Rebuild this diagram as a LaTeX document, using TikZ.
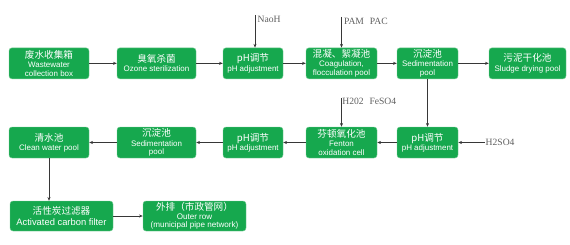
\documentclass[tikz,border=0pt]{standalone}
\usepackage{fontspec}
\setmainfont{Liberation Sans}
\newfontfamily\cjk{Noto Sans CJK SC}
\newfontfamily\labfont{Liberation Serif}
\usepackage{xcolor}
\usetikzlibrary{
  arrows.meta,
  positioning,
  calc
}
\definecolor{xgreen}{RGB}{22,168,78}
\definecolor{xedge}{RGB}{120,205,150}
\definecolor{xline}{RGB}{55,55,55}
\definecolor{xlabel}{RGB}{95,95,95}

\newcommand{\cn}[1]{{\cjk\fontsize{8.2}{9}\selectfont #1}}

\begin{document}
\begin{tikzpicture}[
  stage/.style={draw=xedge, fill=xgreen, rounded corners=2.5pt,
                minimum width=#1, minimum height=0.93cm, inner sep=1pt,
                text=white, align=center, line width=0.4pt,
                font=\fontsize{6.8}{7.4}\selectfont},
  stage/.default=2.4cm,
  arr/.style={-{Stealth[length=3.2pt,width=2.6pt]}, color=xline, line width=0.5pt},
  dose/.style={font=\labfont\fontsize{8.2}{9}\selectfont, color=xlabel, inner sep=0.5pt}
]
  \useasboundingbox (0,0) rectangle (17.1,-7.32);

  % first row
  \node[stage=2.4cm]  (collect) at (1.47,-1.9)   {\cn{废水收集箱}\\[0.5pt]Wastewater\\collection box};
  \node[stage=2.37cm] (ozone)   at (4.695,-1.9)  {\cn{臭氧杀菌}\\[0.5pt]Ozone sterilization};
  \node[stage=1.8cm]  (ph1)     at (7.59,-1.9)   {\cn{pH调节}\\[0.5pt]pH adjustment};
  \node[stage=2.13cm] (coag)    at (10.245,-1.9) {\cn{混凝、絮凝池}\\[0.5pt]Coagulation,\\flocculation pool};
  \node[stage=1.83cm] (sed1)    at (12.825,-1.9) {\cn{沉淀池}\\[0.5pt]Sedimentation\\pool};
  \node[stage=2.31cm] (sludge)  at (15.825,-1.9) {\cn{污泥干化池}\\[0.5pt]Sludge drying pool};

  % second row
  \node[stage=1.83cm] (ph2)     at (12.825,-4.275) {\cn{pH调节}\\[0.5pt]pH adjustment};
  \node[stage=2.13cm] (fenton)  at (10.245,-4.275) {\cn{芬顿氧化池}\\[0.5pt]Fenton\\oxidation cell};
  \node[stage=1.8cm]  (ph3)     at (7.59,-4.275)   {\cn{pH调节}\\[0.5pt]pH adjustment};
  \node[stage=2.37cm] (sed2)    at (4.695,-4.275)  {\cn{沉淀池}\\[0.5pt]Sedimentation\\pool};
  \node[stage=2.4cm]  (clean)   at (1.47,-4.275)   {\cn{清水池}\\[0.5pt]Clean water pool};

  % third row
  \node[stage=3.09cm, minimum height=0.9cm, font=\fontsize{8}{8.6}\selectfont] (carbon) at (1.845,-6.48)
    {\cn{活性炭过滤器}\\[0.5pt]Activated carbon filter};
  \node[stage=3.09cm, minimum height=0.9cm, font=\fontsize{6.9}{7.2}\selectfont] (outlet) at (5.835,-6.48)
    {\cn{外排（市政管网）}\\[0pt]Outer row\\(municipal pipe network)};

  % main flow
  \foreach \from/\to in {collect/ozone, ozone/ph1, ph1/coag, coag/sed1, sed1/sludge,
                         ph2/fenton, fenton/ph3, ph3/sed2, sed2/clean, carbon/outlet}{
    \draw[arr] (\from) -- (\to);
  }
  \draw[arr] (sed1) -- (ph2);
  \draw[arr] (clean.south) -- (clean.south |- carbon.north);

  % dosing points
  \coordinate (naoh)  at ($(ph1.north)+(0.06,0.98)$);
  \coordinate (pam)   at ($(coag.north)+(0,0.92)$);
  \coordinate (h2o2)  at ($(fenton.north)+(0,0.87)$);
  \coordinate (h2so4) at ($(ph2.east)+(0.8,0)$);

  \draw[arr] (naoh) -- (naoh |- ph1.north);
  \draw[arr] (pam) -- (coag.north);
  \draw[arr] (h2o2) -- (fenton.north);
  \draw[arr] (h2so4) -- (ph2.east);

  \node[dose, anchor=north west, xshift=1.5pt] (naohlab)  at (naoh)  {NaoH};
  \node[dose, anchor=north west, xshift=1.5pt] (pamlab)   at (pam)   {PAM\hspace{5pt}PAC};
  \node[dose, anchor=north west]               (h2o2lab)  at (h2o2)  {H202\hspace{5pt}FeSO4};
  \node[dose, anchor=west]                     (h2so4lab) at (h2so4) {H2SO4};
\end{tikzpicture}
\end{document}
